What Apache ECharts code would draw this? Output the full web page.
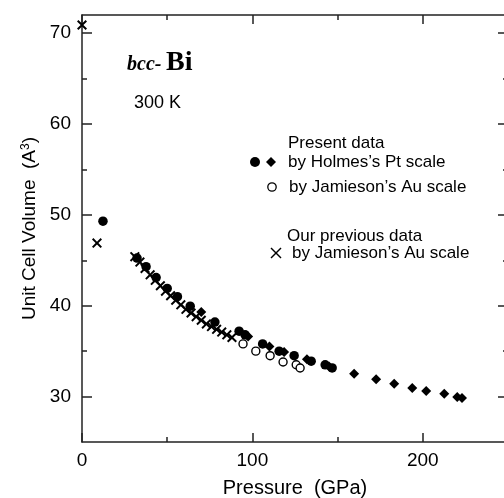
<!DOCTYPE html>
<html><head><meta charset="utf-8">
<script src="https://cdn.jsdelivr.net/npm/echarts@6/dist/echarts.min.js"></script>
<style>html,body{margin:0;padding:0;background:#fff}#c{width:504px;height:498px}</style>
</head><body><div id="c"></div>
<script>
// Pressure (GPa), unit cell volume (A^3)
const holmesCircles = [[12.3,49.3],[32.3,45.25],[37.6,44.3],[43.5,43.1],[50,41.9],[56,41.0],[63.5,39.95],[78,38.2],[92.2,37.2],[95.7,36.8],[106,35.8],[115.7,35.0],[124.5,34.5],[134.5,33.9],[142.7,33.5],[146.8,33.15]];
const holmesDiamonds = [[70,39.3],[97.5,36.6],[110,35.5],[118.6,34.9],[132,34.1],[145,33.3],[159.7,32.5],[172.6,31.9],[183.2,31.4],[193.8,30.95],[202,30.6],[212.6,30.3],[220.2,29.95],[223,29.85]];
const jamiesonOpen = [[94.5,35.8],[102,35.0],[110.4,34.5],[118,33.8],[125.7,33.5],[128,33.15]];
const previousCross = [[0,70.9],[8.8,46.9],[31,45.4],[34,44.8],[37,44.1],[40,43.4],[43,42.8],[46,42.2],[49,41.6],[52,41.1],[55,40.6],[58,40.1],[61,39.6],[64,39.2],[67,38.8],[70,38.4],[73,38.0],[76,37.7],[79,37.4],[82,37.1],[85,36.8],[88,36.5]];
const xMajorTicks = [0,100,200];
const xMinorTicks = [50,150,250];
const yMajorTicks = [30,40,50,60,70];
const yMinorTicks = [35,45,55,65];

const X_MIN=0, X_MAX=250, Y_MIN=25, Y_MAX=72;
const AX='#222';
const FONT='"Liberation Sans", Arial, sans-serif';

function xAx(pos, ticks, len, labels, line){
  return {type:'value', position:pos, min:X_MIN, max:X_MAX, gridIndex:0,
    axisLine:{show:line, onZero:false, lineStyle:{color:AX,width:1.5}},
    axisTick:{show:true, inside:true, length:len, customValues:ticks, lineStyle:{color:AX,width:1.5}},
    axisLabel:{show:labels, customValues:ticks, margin:9, color:'#000', fontSize:19, fontFamily:FONT},
    splitLine:{show:false}};
}
function yAx(pos, ticks, len, labels, line){
  return {type:'value', position:pos, min:Y_MIN, max:Y_MAX, gridIndex:0,
    axisLine:{show:line, onZero:false, lineStyle:{color:AX,width:1.5}},
    axisTick:{show:true, inside:true, length:len, customValues:ticks, lineStyle:{color:AX,width:1.5}},
    axisLabel:{show:labels, customValues:ticks, margin:11, color:'#000', fontSize:19, fontFamily:FONT},
    splitLine:{show:false}};
}
const xAxes=[xAx('bottom',xMajorTicks,9,true,true), xAx('bottom',xMinorTicks,5,false,false),
  xAx('top',xMajorTicks,9,false,true), xAx('top',xMinorTicks,5,false,false)];
xAxes[0].name='Pressure  (GPa)'; xAxes[0].nameLocation='middle'; xAxes[0].nameGap=36;
xAxes[0].nameTextStyle={color:'#000',fontSize:20,fontFamily:FONT};
const yAxes=[yAx('left',yMajorTicks,10,true,true), yAx('left',yMinorTicks,5,false,false),
  yAx('right',yMajorTicks,10,false,true), yAx('right',yMinorTicks,5,false,false)];
yAxes[0].name='Unit Cell Volume  (A{sup|3})'; yAxes[0].nameLocation='middle'; yAxes[0].nameGap=35; yAxes[0].nameRotate=90;
yAxes[0].nameTextStyle={color:'#000',fontSize:19,fontFamily:FONT,rich:{sup:{fontSize:12,verticalAlign:'top',color:'#000',fontFamily:FONT}}};

const CROSS='path://M0,1.4L1.4,0L5,3.6L8.6,0L10,1.4L6.4,5L10,8.6L8.6,10L5,6.4L1.4,10L0,8.6L3.6,5Z';
const chart=echarts.init(document.getElementById('c'),null,{renderer:'canvas'});
const txt=(x,y,t,extra)=>Object.assign({type:'text',x:x,y:y,style:{text:t,fill:'#000',font:'17px '+FONT,textVerticalAlign:'middle'}},extra||{});
chart.setOption({
  animation:false,
  grid:{left:82, top:15, width:426, height:427, outerBoundsMode:'none', containLabel:false},
  xAxis:xAxes, yAxis:yAxes,
  series:[
    {type:'scatter', data:jamiesonOpen, symbol:'circle', symbolSize:8, itemStyle:{color:'#fff',borderColor:'#000',borderWidth:1.4,opacity:1}},
    {type:'scatter', data:holmesCircles, symbol:'circle', symbolSize:9.5, itemStyle:{color:'#000',opacity:1}},
    {type:'scatter', data:holmesDiamonds, symbol:'diamond', symbolSize:10, itemStyle:{color:'#000',opacity:1}},
    {type:'scatter', data:previousCross, symbol:CROSS, symbolSize:10, itemStyle:{color:'#000',opacity:1}}
  ],
  graphic:[
    {type:'text', x:127, y:75, style:{text:'bcc-', fill:'#000', font:'italic bold 20px "Liberation Serif", serif', textVerticalAlign:'bottom'}},
    {type:'text', x:166, y:77, style:{text:'Bi', fill:'#000', font:'bold 28px "Liberation Serif", serif', textVerticalAlign:'bottom'}},
    {type:'text', x:134, y:103, style:{text:'300 K', fill:'#000', font:'18px '+FONT, textVerticalAlign:'middle'}},
    txt(288,143,'Present data'),
    {type:'circle', shape:{cx:255,cy:162,r:5}, style:{fill:'#000'}},
    {type:'polygon', shape:{points:[[271,157],[276,162],[271,167],[266,162]]}, style:{fill:'#000'}},
    txt(288,162,'by Holmes’s Pt scale'),
    {type:'circle', shape:{cx:272,cy:187,r:4.2}, style:{fill:'#fff',stroke:'#000',lineWidth:1.3}},
    txt(289,187,'by Jamieson’s Au scale'),
    txt(287,236,'Our previous data'),
    {type:'polyline', shape:{points:[[271,248],[281,258]]}, style:{stroke:'#000',lineWidth:1.4}},
    {type:'polyline', shape:{points:[[281,248],[271,258]]}, style:{stroke:'#000',lineWidth:1.4}},
    txt(292,253,'by Jamieson’s Au scale')
  ]
});
</script></body></html>
